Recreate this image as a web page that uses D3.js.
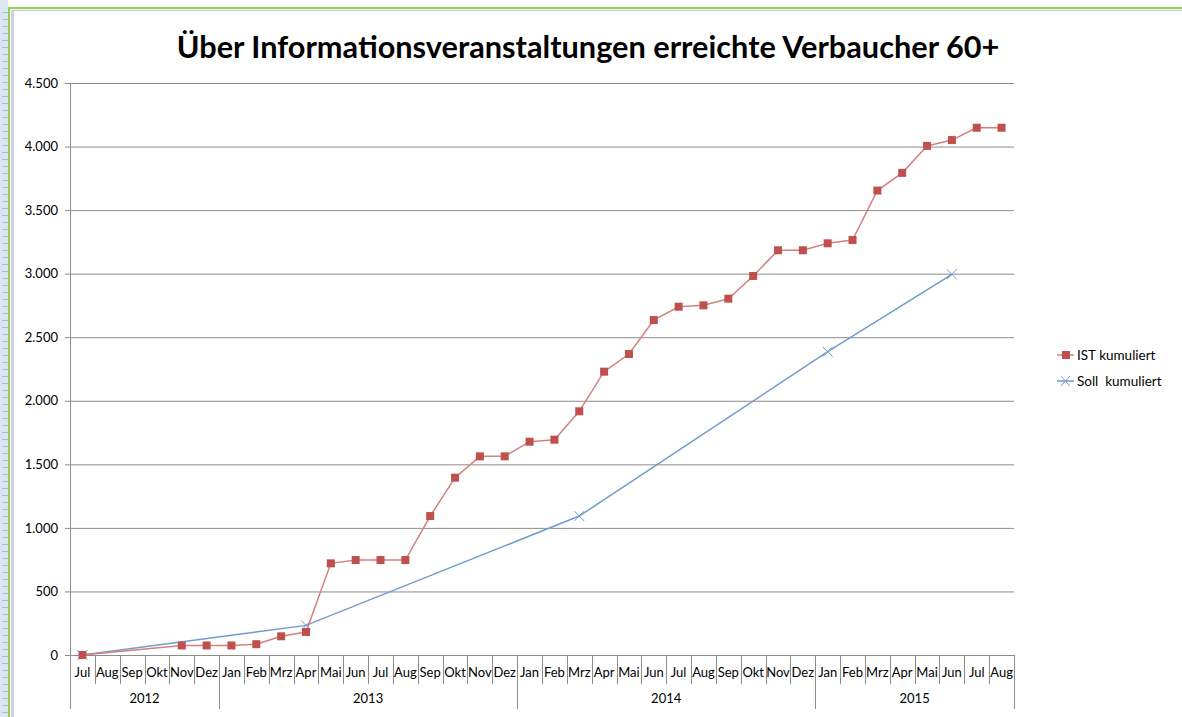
<!DOCTYPE html>
<html>
<head>
<meta charset="utf-8">
<script src="https://cdn.jsdelivr.net/npm/d3@7"></script>
<style>
  body { margin: 0; background: #fff; }
  text { font-family: Lato, "Open Sans", sans-serif; fill: #000; }
  .grid line { stroke: #8c8c8c; }
  .grid path { display: none; }
</style>
</head>
<body>
<div id="chart"></div>
<script>
// ... data
const months = ['Jul', 'Aug', 'Sep', 'Okt', 'Nov', 'Dez',
  'Jan', 'Feb', 'Mrz', 'Apr', 'Mai', 'Jun', 'Jul', 'Aug', 'Sep', 'Okt', 'Nov', 'Dez',
  'Jan', 'Feb', 'Mrz', 'Apr', 'Mai', 'Jun', 'Jul', 'Aug', 'Sep', 'Okt', 'Nov', 'Dez',
  'Jan', 'Feb', 'Mrz', 'Apr', 'Mai', 'Jun', 'Jul', 'Aug'];
const years = ['2012', '2013', '2014', '2015'];
const yearMonths = [6, 12, 12, 8];

const istKumuliert = [0, null, null, null, 75, 75,
  75, 85, 147, 181, 721, 747, 747, 747, 1093, 1395, 1563, 1563,
  1678, 1694, 1917, 2229, 2368, 2635, 2740, 2751, 2803, 2982, 3184, 3184,
  3239, 3265, 3654, 3793, 4005, 4051, 4148, 4148];
const sollKumuliert = [0, null, null, null, null, null,
  null, null, null, 233, null, null, null, null, null, null, null, null,
  null, null, 1093, null, null, null, null, null, null, null, null, null,
  2386, null, null, null, null, 2995, null, null];

const yTicks = [0, 500, 1000, 1500, 2000, 2500, 3000, 3500, 4000, 4500];
const title = 'Über Informationsveranstaltungen erreichte Verbaucher 60+';
const seriesNames = ['IST kumuliert', 'Soll  kumuliert'];

// ... layout
const W = 1182, H = 717;
const margin = { top: 83, left: 70 };
const width = 944;
const height = 572;

const de = d3.formatLocale({ decimal: ',', thousands: '.', grouping: [3], currency: ['', ' €'] });

const svg = d3.select('#chart').append('svg')
  .attr('width', W)
  .attr('height', H);

// ... spreadsheet frame around the chart
svg.append('rect').attr('x', 0).attr('y', 0).attr('width', 8).attr('height', H).attr('fill', '#dce6f1');
for (let yy = 12; yy < H; yy += 7) {
  svg.append('line').attr('x1', 2).attr('x2', 8).attr('y1', yy + 0.5).attr('y2', yy + 0.5)
    .attr('stroke', '#a9bcd6');
}
svg.append('line').attr('x1', 11).attr('x2', W).attr('y1', 10.5).attr('y2', 10.5).attr('stroke', '#c8c8c8');
svg.append('line').attr('x1', 12.5).attr('x2', 12.5).attr('y1', 11).attr('y2', H).attr('stroke', '#c8d4e4').attr('stroke-width', 3);
svg.append('line').attr('x1', 8).attr('x2', W).attr('y1', 8).attr('y2', 8).attr('stroke', '#92d050').attr('stroke-width', 2);
svg.append('line').attr('x1', 9).attr('x2', 9).attr('y1', 7).attr('y2', H).attr('stroke', '#92d050').attr('stroke-width', 2);

// ... title
const t = svg.append('text')
  .attr('x', 588)
  .attr('y', 58)
  .attr('text-anchor', 'middle')
  .style('font-weight', 'bold')
  .style('font-size', '26px')
  .text(title);
const tw = t.node().getComputedTextLength();
t.style('font-size', (26 * 823 / tw) + 'px');

const g = svg.append('g')
  .attr('transform', 'translate(' + margin.left + ',' + margin.top + ')');

const x = d3.scaleBand()
  .domain(d3.range(months.length))
  .range([0, width]);

const y = d3.scaleLinear()
  .domain([0, 4500])
  .range([height, 0]);

// ... grid
g.append('g')
  .attr('class', 'grid')
  .call(d3.axisLeft(y).tickValues(yTicks).tickSize(-width).tickFormat(''));

// ... y axis
const ya = g.append('g')
  .call(d3.axisLeft(y).tickValues(yTicks).tickSize(5).tickPadding(7).tickFormat(de.format(',')));
ya.select('.domain').attr('stroke', '#8c8c8c').attr('d', 'M0.5,0V' + height);
ya.selectAll('.tick line').attr('stroke', '#8c8c8c');
ya.selectAll('.tick text').style('font-size', '13px').style('font-family', 'Lato, sans-serif');

// ... x axis (months + years)
const xa = g.append('g').attr('transform', 'translate(0,' + height + ')');
xa.append('line').attr('x1', 0).attr('x2', width).attr('y1', 0.5).attr('y2', 0.5).attr('stroke', '#8c8c8c');
d3.range(months.length + 1).forEach(function (i) {
  const xx = i < months.length ? x(i) : width;
  xa.append('line')
    .attr('x1', Math.round(xx) + 0.5).attr('x2', Math.round(xx) + 0.5)
    .attr('y1', 0).attr('y2', 29)
    .attr('stroke', '#8c8c8c');
});
xa.selectAll('.month')
  .data(months)
  .enter().append('text')
  .attr('class', 'month')
  .attr('x', function (d, i) { return x(i) + x.bandwidth() / 2; })
  .attr('y', 22)
  .attr('text-anchor', 'middle')
  .style('font-size', '13px')
  .text(function (d) { return d; });

let start = 0;
years.forEach(function (yr, k) {
  const x0 = x(start);
  const end = start + yearMonths[k];
  const x1 = end < months.length ? x(end) : width;
  xa.append('line')
    .attr('x1', Math.round(x0) + 0.5).attr('x2', Math.round(x0) + 0.5)
    .attr('y1', 0).attr('y2', 54).attr('stroke', '#8c8c8c');
  xa.append('text')
    .attr('x', (x0 + x1) / 2)
    .attr('y', 48)
    .attr('text-anchor', 'middle')
    .style('font-size', '13px')
    .text(yr);
  start = end;
});
xa.append('line')
  .attr('x1', width + 0.5).attr('x2', width + 0.5)
  .attr('y1', 0).attr('y2', 54).attr('stroke', '#8c8c8c');

const cx = function (i) { return x(i) + x.bandwidth() / 2; };

// ... series
const istPts = istKumuliert.map(function (v, i) { return { i: i, v: v }; }).filter(function (d) { return d.v !== null; });
const sollPts = sollKumuliert.map(function (v, i) { return { i: i, v: v }; }).filter(function (d) { return d.v !== null; });

const line = d3.line()
  .x(function (d) { return cx(d.i); })
  .y(function (d) { return y(d.v); });

g.append('path')
  .datum(sollPts)
  .attr('fill', 'none')
  .attr('stroke', '#6f9bd1')
  .attr('stroke-width', 1.5)
  .attr('d', line);

g.selectAll('.soll')
  .data(sollPts)
  .enter().append('path')
  .attr('class', 'soll')
  .attr('transform', function (d) { return 'translate(' + cx(d.i) + ',' + y(d.v) + ')'; })
  .attr('d', 'M-5,-5L5,5M-5,5L5,-5')
  .attr('stroke', '#6f9bd1')
  .attr('stroke-width', 1);

g.append('path')
  .datum(istPts)
  .attr('fill', 'none')
  .attr('stroke', '#d4807d')
  .attr('stroke-width', 1.5)
  .attr('d', line);

g.selectAll('.ist')
  .data(istPts)
  .enter().append('rect')
  .attr('class', 'ist')
  .attr('x', function (d) { return cx(d.i) - 4; })
  .attr('y', function (d) { return y(d.v) - 4; })
  .attr('width', 8)
  .attr('height', 8)
  .attr('fill', '#c0504d');

// ... legend
const leg = svg.append('g').attr('transform', 'translate(1057,355)');
leg.append('line').attr('x1', 0).attr('x2', 17).attr('y1', 0).attr('y2', 0).attr('stroke', '#d4807d').attr('stroke-width', 1.5);
leg.append('rect').attr('x', 5).attr('y', -4).attr('width', 8).attr('height', 8).attr('fill', '#c0504d');
leg.append('text').attr('x', 20).attr('y', 5).style('font-size', '13.5px').text(seriesNames[0]);
leg.append('line').attr('x1', 0).attr('x2', 17).attr('y1', 26).attr('y2', 26).attr('stroke', '#6f9bd1').attr('stroke-width', 1.5);
leg.append('path').attr('d', 'M4,21L13,31M4,31L13,21').attr('stroke', '#6f9bd1');
leg.append('text').attr('x', 20).attr('y', 31).style('font-size', '13.5px').style('white-space', 'pre').text(seriesNames[1]);
</script>
</body>
</html>
